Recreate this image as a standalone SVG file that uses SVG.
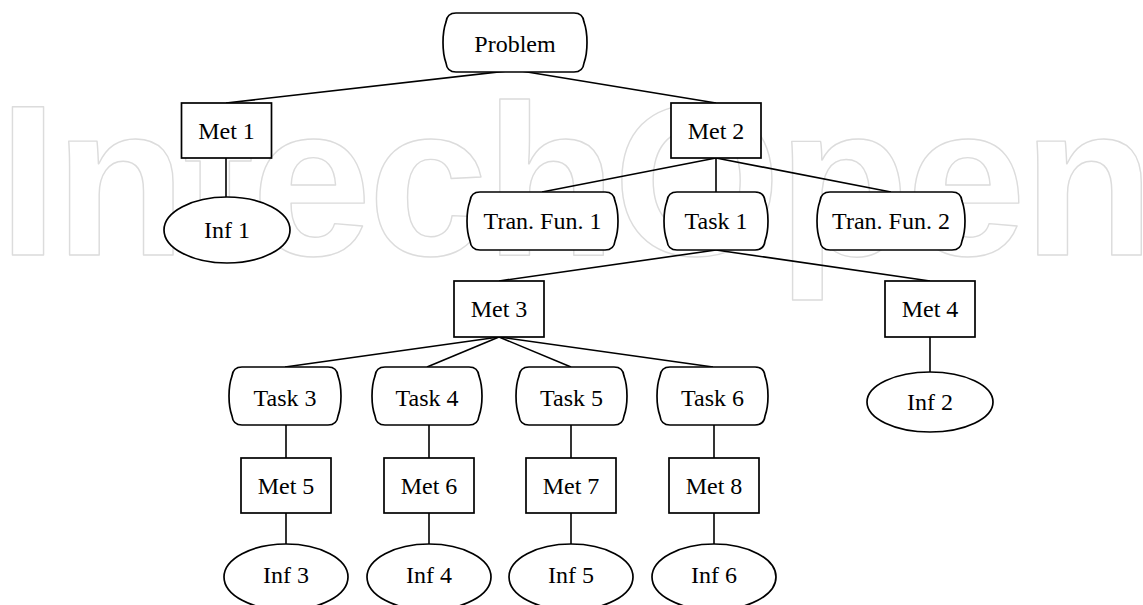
<svg xmlns="http://www.w3.org/2000/svg" width="1143" height="605" viewBox="0 0 1143 605">
<style>
.wm{font-family:'Liberation Sans',Arial,sans-serif;font-size:216px;font-weight:bold;fill:none;stroke:#dcdcdc;stroke-width:1.4;stroke-linejoin:round;letter-spacing:-3.5px}
.s{fill:#fff;stroke:#000;stroke-width:1.7}
.t{font-family:'Liberation Serif',Tinos,'Times New Roman',Times,'Nimbus Roman','Nimbus Roman No9 L','DejaVu Serif','Noto Serif',FreeSerif,serif;font-size:24px;fill:#000;text-anchor:middle}
.c line{stroke:#000;stroke-width:1.6}
</style>
<rect width="1143" height="605" fill="#fff"/>
<text class="wm" x="-2" y="255">IntechOpen</text>
<g class="c" id="connectors">
<line x1="515" y1="70" x2="226" y2="103"/>
<line x1="515" y1="70" x2="716" y2="103"/>
<line x1="226" y1="158" x2="226" y2="197"/>
<line x1="716" y1="158" x2="542" y2="192"/>
<line x1="716" y1="158" x2="716" y2="192"/>
<line x1="716" y1="158" x2="891" y2="192"/>
<line x1="716" y1="250" x2="499" y2="281"/>
<line x1="716" y1="250" x2="930" y2="281"/>
<line x1="930" y1="337" x2="930" y2="372"/>
<line x1="499" y1="337" x2="285" y2="367"/>
<line x1="499" y1="337" x2="427" y2="367"/>
<line x1="499" y1="337" x2="571" y2="367"/>
<line x1="499" y1="337" x2="713" y2="367"/>
<line x1="286" y1="425" x2="286" y2="458"/>
<line x1="429" y1="425" x2="429" y2="458"/>
<line x1="571" y1="425" x2="571" y2="458"/>
<line x1="714" y1="425" x2="714" y2="458"/>
<line x1="286" y1="513" x2="286" y2="544"/>
<line x1="429" y1="513" x2="429" y2="544"/>
<line x1="571" y1="513" x2="571" y2="544"/>
<line x1="714" y1="513" x2="714" y2="544"/>
</g>
<g id="problem"><path class="s" d="M456 13 H574 Q583 13 584 22 C588 33 588 52 584 63 Q583 72 574 72 H456 Q447 72 446 63 C442 52 442 33 446 22 Q447 13 456 13 Z"/><text class="t" x="515" y="52">Problem</text></g>
<g id="met1"><rect class="s" x="181.5" y="103" width="90" height="55"/><text class="t" x="226.5" y="139">Met 1</text></g>
<g id="met2"><rect class="s" x="671" y="103" width="90" height="55"/><text class="t" x="716" y="139">Met 2</text></g>
<g id="inf1"><ellipse class="s" cx="227" cy="230" rx="63" ry="33"/><text class="t" x="227" y="238">Inf 1</text></g>
<g id="tranfun1"><path class="s" d="M480 192 H605 Q614 192 615 201 C619 212 619 230 615 241 Q614 250 605 250 H480 Q471 250 470 241 C466 230 466 212 470 201 Q471 192 480 192 Z"/><text class="t" x="542.5" y="229">Tran. Fun. 1</text></g>
<g id="task1"><path class="s" d="M677 192 H755 Q764 192 765 201 C769 212 769 230 765 241 Q764 250 755 250 H677 Q668 250 667 241 C663 230 663 212 667 201 Q668 192 677 192 Z"/><text class="t" x="716" y="229">Task 1</text></g>
<g id="tranfun2"><path class="s" d="M830 192 H952 Q961 192 962 201 C966 212 966 230 962 241 Q961 250 952 250 H830 Q821 250 820 241 C816 230 816 212 820 201 Q821 192 830 192 Z"/><text class="t" x="891" y="229">Tran. Fun. 2</text></g>
<g id="met3"><rect class="s" x="454" y="281" width="90" height="56"/><text class="t" x="499" y="317">Met 3</text></g>
<g id="met4"><rect class="s" x="885" y="281" width="90" height="56"/><text class="t" x="930" y="317">Met 4</text></g>
<g id="inf2"><ellipse class="s" cx="930" cy="402" rx="63" ry="30"/><text class="t" x="930" y="410">Inf 2</text></g>
<g id="task3"><path class="s" d="M242 367 H328 Q337 367 338 376 C342 387 342 405 338 416 Q337 425 328 425 H242 Q233 425 232 416 C228 405 228 387 232 376 Q233 367 242 367 Z"/><text class="t" x="285" y="406">Task 3</text></g>
<g id="task4"><path class="s" d="M385 367 H469 Q478 367 479 376 C483 387 483 405 479 416 Q478 425 469 425 H385 Q376 425 375 416 C371 405 371 387 375 376 Q376 367 385 367 Z"/><text class="t" x="427" y="406">Task 4</text></g>
<g id="task5"><path class="s" d="M529 367 H614 Q623 367 624 376 C628 387 628 405 624 416 Q623 425 614 425 H529 Q520 425 519 416 C515 405 515 387 519 376 Q520 367 529 367 Z"/><text class="t" x="571.5" y="406">Task 5</text></g>
<g id="task6"><path class="s" d="M670 367 H755 Q764 367 765 376 C769 387 769 405 765 416 Q764 425 755 425 H670 Q661 425 660 416 C656 405 656 387 660 376 Q661 367 670 367 Z"/><text class="t" x="712.5" y="406">Task 6</text></g>
<g id="met5"><rect class="s" x="241" y="458" width="90" height="55"/><text class="t" x="286" y="494">Met 5</text></g>
<g id="met6"><rect class="s" x="384" y="458" width="90" height="55"/><text class="t" x="429" y="494">Met 6</text></g>
<g id="met7"><rect class="s" x="526" y="458" width="90" height="55"/><text class="t" x="571" y="494">Met 7</text></g>
<g id="met8"><rect class="s" x="669" y="458" width="90" height="55"/><text class="t" x="714" y="494">Met 8</text></g>
<g id="inf3"><ellipse class="s" cx="286" cy="577" rx="62" ry="33"/><text class="t" x="286" y="583">Inf 3</text></g>
<g id="inf4"><ellipse class="s" cx="429" cy="577" rx="62" ry="33"/><text class="t" x="429" y="583">Inf 4</text></g>
<g id="inf5"><ellipse class="s" cx="571" cy="577" rx="62" ry="33"/><text class="t" x="571" y="583">Inf 5</text></g>
<g id="inf6"><ellipse class="s" cx="714" cy="577" rx="62" ry="33"/><text class="t" x="714" y="583">Inf 6</text></g>
</svg>
